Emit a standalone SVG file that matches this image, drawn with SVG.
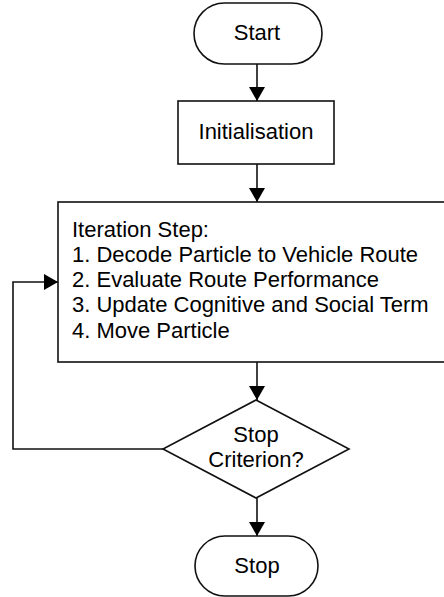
<svg xmlns="http://www.w3.org/2000/svg" width="444" height="597" viewBox="0 0 444 597">
<style>
.s{fill:#fff;stroke:#111;stroke-width:1.6}
.c{fill:none;stroke:#111;stroke-width:1.6}
text{font-family:"Liberation Sans",Arial,sans-serif;font-size:22px;fill:#000}
.m{text-anchor:middle}
</style>
<defs>
<marker id="a" markerWidth="14" markerHeight="16" refX="14" refY="8" orient="auto" markerUnits="userSpaceOnUse">
<path d="M0,0 L14,8 L0,16 z" fill="#000"/>
</marker>
</defs>
<rect width="444" height="597" fill="#fff"/>
<g id="connectors">
<line class="c" x1="257" y1="64" x2="257" y2="101" marker-end="url(#a)"/>
<line class="c" x1="257" y1="164" x2="257" y2="202" marker-end="url(#a)"/>
<line class="c" x1="257" y1="362" x2="257" y2="400" marker-end="url(#a)"/>
<line class="c" x1="257" y1="498" x2="257" y2="536" marker-end="url(#a)"/>
<polyline class="c" points="163,449 13,449 13,282 58,282" marker-end="url(#a)"/>
</g>
<g id="start">
<rect class="s" x="194" y="3" width="128" height="61" rx="30.5"/>
<text class="m" x="257" y="40">Start</text>
</g>
<g id="init">
<rect class="s" x="178" y="101" width="156" height="63"/>
<text class="m" x="256" y="139">Initialisation</text>
</g>
<g id="iteration">
<rect class="s" x="58" y="202" width="400" height="160"/>
<text x="72" y="237">Iteration Step:</text>
<text x="72" y="262">1. Decode Particle to Vehicle Route</text>
<text x="72" y="287">2. Evaluate Route Performance</text>
<text x="72" y="312">3. Update Cognitive and Social Term</text>
<text x="72" y="338">4. Move Particle</text>
</g>
<g id="decision">
<polygon class="s" points="256,400 349,449 256,498 163,449"/>
<text class="m" x="256" y="442">Stop</text>
<text class="m" x="256" y="467">Criterion?</text>
</g>
<g id="stop">
<rect class="s" x="195" y="536" width="123" height="60" rx="30"/>
<text class="m" x="257" y="573">Stop</text>
</g>
</svg>
